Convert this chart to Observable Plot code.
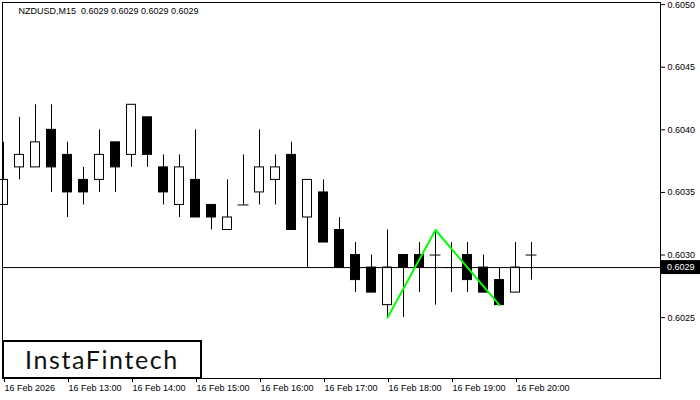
<!DOCTYPE html>
<html>
<head>
<meta charset="utf-8">
<script src="https://cdn.jsdelivr.net/npm/d3@7"></script>
<script src="https://cdn.jsdelivr.net/npm/@observablehq/plot@0.6"></script>
<style>
  body { margin: 0; background: #fff; }
  #wrap { position: relative; width: 700px; height: 400px; overflow: hidden; }
  #wrap svg text { white-space: pre; }
  #logo {
    position: absolute; left: 2px; top: 340px; width: 200px; height: 39px;
    box-sizing: border-box; border: 2px solid #000; background: #fff;
    display: flex; align-items: center; justify-content: center;
    font-family: Lato, "Open Sans", sans-serif; font-size: 25px; letter-spacing: 1.6px;
    color: #111; padding-bottom: 1px;
  }
</style>
</head>
<body>
<div id="wrap"></div>
<script>
// ---- data ----
const title = "NZDUSD,M15  0.6029 0.6029 0.6029 0.6029";
const opens  = [0.6034,0.6037,0.6037,0.6040,0.6038,0.6036,0.6036,0.6039,0.6038,0.6041,0.6037,0.6034,0.6036,0.6034,0.6032,0.6034,0.6035,0.6036,0.6038,0.6033,0.6035,0.6032,0.6030,0.6029,0.6026,0.6030,0.6030,0.6030,0.6029,0.6030,0.6029,0.6028,0.6027,0.6030];
const highs  = [0.6039,0.6041,0.6042,0.6042,0.6039,0.6037,0.6040,0.6039,0.6042,0.6041,0.6038,0.6038,0.6040,0.6034,0.6036,0.6038,0.6040,0.6038,0.6039,0.6036,0.6036,0.6033,0.6031,0.6030,0.6032,0.6030,0.6031,0.6032,0.6031,0.6031,0.6030,0.6029,0.6031,0.6031];
const lows   = [0.6034,0.6036,0.6037,0.6035,0.6033,0.6034,0.6035,0.6035,0.6037,0.6037,0.6034,0.6033,0.6033,0.6032,0.6032,0.6034,0.6034,0.6034,0.6032,0.6029,0.6031,0.6029,0.6027,0.6027,0.6025,0.6025,0.6027,0.6026,0.6027,0.6027,0.6027,0.6026,0.6027,0.6028];
const closes = [0.6036,0.6038,0.6039,0.6037,0.6035,0.6035,0.6038,0.6037,0.6042,0.6038,0.6035,0.6037,0.6033,0.6033,0.6033,0.6034,0.6037,0.6037,0.6032,0.6036,0.6031,0.6029,0.6028,0.6027,0.6029,0.6029,0.6029,0.6030,0.6029,0.6028,0.6027,0.6026,0.6029,0.6030];
const timeTickIndex = [0,4,8,12,16,20,24,28,32];
const timeTickLabels = ["16 Feb 2026","16 Feb 13:00","16 Feb 14:00","16 Feb 15:00","16 Feb 16:00","16 Feb 17:00","16 Feb 18:00","16 Feb 19:00","16 Feb 20:00"];
const priceTicks = [0.6025,0.6030,0.6035,0.6040,0.6045,0.6050];
const currentPrice = 0.6029;
const patternIndex = [24,27,31];
const patternPrice = [0.6025,0.6032,0.6026];

// ---- derived tables ----
const candles = opens.map((o, i) => ({k: i, o, h: highs[i], l: lows[i], c: closes[i]}));
const bulls = candles.filter(d => d.c > d.o);
const bears = candles.filter(d => d.c < d.o);
const dojis = candles.filter(d => d.c === d.o);
const pattern = patternIndex.map((k, i) => ({k, p: patternPrice[i]}));
const hw = 0.28;
const fmt = d3.format(".4f");

const plot = Plot.plot({
  width: 700,
  height: 400,
  marginLeft: 2,
  marginRight: 40,
  marginTop: 2,
  marginBottom: 22,
  style: {fontFamily: "'Liberation Sans', Arial, sans-serif", fontSize: "9px", background: "#fff", color: "#000", overflow: "visible"},
  x: {type: "linear", domain: [-0.0625, 41.0625]},
  y: {domain: [0.602014, 0.605017]},
  marks: [
    Plot.axisY({anchor: "right", ticks: priceTicks, tickFormat: fmt, tickSize: 4, tickPadding: 3, label: null}),
    Plot.axisX({anchor: "bottom", ticks: timeTickIndex, tickFormat: d => timeTickLabels[timeTickIndex.indexOf(d)], textAnchor: "start", dx: 1, tickSize: 4, tickPadding: 2, label: null}),
    Plot.ruleX(candles, {x: "k", y1: "l", y2: "h", stroke: "#000", strokeWidth: 1}),
    Plot.rect(bulls, {x1: d => d.k - hw, x2: d => d.k + hw, y1: "o", y2: "c", fill: "#fff", stroke: "#000"}),
    Plot.rect(bears, {x1: d => d.k - hw, x2: d => d.k + hw, y1: "o", y2: "c", fill: "#000", stroke: "#000"}),
    Plot.ruleY(dojis, {y: "o", x1: d => d.k - 0.34, x2: d => d.k + 0.34, stroke: "#000"}),
    Plot.ruleY([currentPrice], {stroke: "#000", strokeWidth: 1}),
    Plot.line(pattern, {x: "k", y: "p", stroke: "#00ff00", strokeWidth: 2}),
    Plot.text([title], {frameAnchor: "top-left", dx: 16, dy: 5, fontSize: 9, fill: "#000", textAnchor: "start"}),
    Plot.frame({stroke: "#000"})
  ]
});

// current price tag in the right margin
const svg = d3.select(plot);
const yc = plot.scale("y").apply(currentPrice);
const tag = svg.append("g");
tag.append("rect").attr("x", 661).attr("y", yc - 7).attr("width", 39).attr("height", 14).attr("fill", "#000");
tag.append("text").attr("x", 667).attr("y", yc).attr("dy", "0.34em").attr("fill", "#fff")
  .attr("text-anchor", "start").attr("font-size", 9)
  .attr("font-family", "'Liberation Sans', Arial, sans-serif").text(fmt(currentPrice));

const wrap = document.getElementById("wrap");
wrap.appendChild(plot);
const logo = document.createElement("div");
logo.id = "logo";
logo.textContent = "InstaFintech";
wrap.appendChild(logo);
</script>
</body>
</html>
